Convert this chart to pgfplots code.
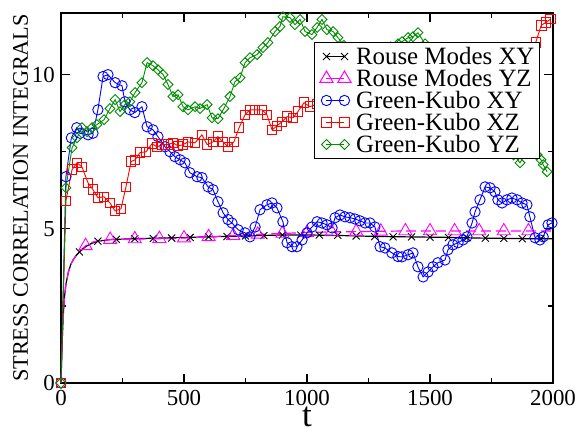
\documentclass[border=0pt]{standalone}
\usepackage{fontspec}
\setmainfont{Liberation Serif}
\usepackage{pgfplots}
\pgfplotsset{compat=1.18}
\definecolor{gkgreen}{rgb}{0,0.55,0}
\definecolor{gkblue}{rgb}{0,0,1}
\definecolor{gkred}{rgb}{1,0,0}
\definecolor{rmmag}{rgb}{1,0,1}
\begin{document}
\begin{tikzpicture}
\useasboundingbox (-61bp,-46bp) rectangle (516bp,383bp);
\begin{axis}[
  scale only axis, width=492bp, height=370bp,
  xmin=0, xmax=2000, ymin=0, ymax=12,
  clip=false,
  xtick={0,500,1000,1500,2000}, ytick={0,5,10},
  minor x tick num=1, minor y tick num=1,
  tick align=inside, major tick length=9bp, minor tick length=5bp,
  axis line style={line width=1.6bp},
  every tick/.style={black, line width=1.2bp},
  /pgf/number format/assume math mode=true,
  /pgf/number format/1000 sep={},
  tick label style={font=\fontsize{23}{23}\selectfont},
  xticklabel style={anchor=base, inner sep=0pt, yshift=-22bp},
  yticklabel style={anchor=east, inner sep=0pt, xshift=-6bp},
  xlabel={t}, ylabel={STRESS CORRELATION INTEGRALS},
  every axis x label/.style={at={(axis description cs:0.5,-0.1189)}, anchor=base, inner sep=0pt, font=\fontsize{35}{35}\selectfont},
  every axis y label/.style={at={(axis description cs:-0.0671,0.5)}, rotate=90, anchor=base, inner sep=0pt, font=\fontsize{22.3}{22}\selectfont},
  legend style={at={(axis description cs:0.9736,0.9208)}, anchor=north east, draw=black, line width=1bp,
    inner xsep=5bp, inner ysep=2.7bp, font=\fontsize{25}{22}\selectfont, row sep=0pt, column sep=5bp,
    nodes={inner sep=0pt, text height=19bp, text depth=3bp}},
  legend cell align=left,
  legend image code/.code={\draw[#1] plot coordinates {(0bp,0bp) (18bp,0bp)};},
]
% ---------- Rouse modes XY (line) ----------
\addplot[black, line width=1.2bp, forget plot] coordinates {
(0,0) (3,0.9) (6,1.6) (10,2.3) (15,2.85) (20,3.2) (30,3.6) (40,3.85) (50,4.0) (60,4.12)
(75,4.25) (100,4.42) (125,4.53) (150,4.6) (200,4.65) (300,4.68) (400,4.7) (500,4.72)
(600,4.74) (700,4.76) (800,4.78) (900,4.8) (1000,4.8) (1100,4.79) (1200,4.77) (1300,4.75)
(1400,4.74) (1500,4.73) (1600,4.72) (1700,4.7) (1800,4.69) (1900,4.68) (2000,4.68)};
\addplot[black, only marks, mark=x, mark size=5pt, line width=0.9bp, forget plot] coordinates {
(75,4.25) (150,4.6) (225,4.66) (300,4.68) (375,4.69) (450,4.70) (525,4.72) (600,4.74)
(675,4.75) (750,4.77) (825,4.78) (900,4.8) (975,4.8) (1050,4.8) (1125,4.79) (1200,4.77)
(1275,4.75) (1350,4.74) (1425,4.74) (1500,4.73) (1575,4.72) (1650,4.71) (1725,4.7)
(1800,4.69) (1875,4.68) (1950,4.68)};
% ---------- Rouse modes YZ ----------
\addplot[rmmag, line width=1.2bp, dash pattern=on 10bp off 5bp, forget plot] coordinates {
(0,0) (3,0.9) (6,1.6) (10,2.3) (15,2.85) (20,3.2) (30,3.6) (40,3.85) (50,4.0) (60,4.12)
(75,4.27) (100,4.45) (125,4.56) (150,4.61) (200,4.65) (300,4.67) (400,4.68) (500,4.7)
(600,4.74) (700,4.78) (800,4.82) (900,4.85) (1000,4.88) (1100,4.9) (1200,4.91) (1300,4.92)
(1400,4.93) (1500,4.93) (1600,4.93) (1700,4.93) (1800,4.93) (1900,4.93) (2000,4.93)};
\addplot[rmmag, only marks, mark=triangle, mark size=7.6pt, line width=0.9bp, forget plot] coordinates {
(100,4.45) (200,4.65) (300,4.67) (400,4.68) (500,4.7) (600,4.74) (700,4.78) (800,4.82)
(900,4.85) (1000,4.88) (1100,4.9) (1200,4.91) (1300,4.92) (1400,4.93) (1500,4.93)
(1600,4.93) (1700,4.93) (1800,4.93) (1900,4.93)};
% ---------- Green-Kubo XY ----------
\addplot[gkblue, line width=0.9bp, mark=o, mark size=5.2pt, forget plot] coordinates {
(0,0) (20,6.69) (42,7.95) (64,8.28) (77,8.10) (110,8.05) (130,8.10) (150,8.86) (171,9.94)
(191,10.0) (220,9.74) (248,9.64) (260,9.12) (280,8.86) (300,8.77) (329,8.96) (350,8.31)
(374,8.21) (394,7.99) (423,7.66) (443,7.50) (463,7.34) (484,7.24) (504,7.14) (524,6.82)
(553,6.69) (573,6.66) (598,6.36) (618,6.27) (638,5.88) (659,5.52) (679,5.30) (695,5.19)
(720,4.97) (748,4.87) (768,4.74) (789,5.06) (809,5.62) (837,5.78) (858,5.84) (878,5.68)
(902,5.23) (919,4.55) (939,4.42) (959,4.42) (980,4.64) (1000,4.87) (1020,5.06) (1041,5.23)
(1061,5.19) (1081,5.13) (1102,5.03) (1114,5.36) (1134,5.45) (1154,5.39) (1175,5.36)
(1195,5.32) (1215,5.26) (1236,5.19) (1256,5.19) (1276,5.06) (1297,4.42) (1317,4.38)
(1345,4.22) (1370,4.10) (1386,4.09) (1411,4.16) (1431,4.22) (1451,3.77) (1472,3.44)
(1492,3.60) (1512,3.77) (1532,3.90) (1561,3.99) (1573,4.32) (1593,4.48) (1614,4.55)
(1634,4.64) (1650,4.74) (1671,5.19) (1683,5.55) (1703,5.94) (1724,6.36) (1744,6.33)
(1764,6.20) (1776,5.94) (1793,5.84) (1813,5.94) (1833,6.00) (1854,5.94) (1874,5.84)
(1894,5.78) (1906,5.39) (1927,4.71) (1947,4.64) (1960,4.74) (1980,5.13) (1996,5.19)};
% ---------- Green-Kubo XZ ----------
\addplot[gkred, line width=0.9bp, mark=square, mark size=4.8pt, forget plot] coordinates {
(0,0) (20,5.91) (45,6.92) (65,7.14) (85,7.01) (110,6.49) (130,6.27) (150,6.01) (175,6.04)
(199,5.84) (220,5.58) (244,5.65) (264,6.36) (285,7.18) (301,7.24) (321,7.47) (346,7.50)
(370,7.76) (390,7.66) (411,7.73) (435,7.73) (455,7.79) (476,7.69) (496,7.73) (516,7.82)
(545,7.79) (573,8.05) (594,7.73) (618,7.82) (638,7.99) (659,7.82) (679,7.66) (703,7.82)
(724,8.28) (748,8.70) (768,8.86) (789,8.86) (817,8.86) (837,8.70) (858,8.21) (878,8.34)
(898,8.47) (919,8.64) (943,8.60) (963,8.80) (988,9.09) (1012,8.96) (1040,9.05) (1070,9.2)
(1100,9.3) (1130,9.25) (1160,9.4) (1200,9.5) (1250,9.6) (1300,9.55) (1350,9.7) (1400,9.9)
(1450,9.85) (1500,10.0) (1550,10.1) (1600,10.2) (1650,10.15) (1700,10.3) (1750,10.4)
(1800,10.5) (1850,10.6) (1900,10.7) (1930,11.05) (1952,11.6) (1972,11.7) (1990,11.8)};
% ---------- Green-Kubo YZ ----------
\addplot[gkgreen, line width=0.9bp, mark=square, mark size=3.5pt, mark options={rotate=45}, forget plot] coordinates {
(0,0) (20,6.33) (45,7.63) (65,7.95) (85,8.28) (106,8.15) (126,8.28) (146,8.38) (175,8.54)
(199,8.90) (220,9.19) (240,8.80) (260,9.03) (280,9.12) (301,9.42) (329,9.74) (350,10.39)
(374,10.29) (394,10.16) (415,10.00) (435,9.68) (455,9.29) (476,9.35) (496,8.96) (516,8.86)
(545,8.96) (565,8.90) (594,9.03) (614,8.60) (638,8.57) (662,8.90) (687,9.29) (707,9.77)
(728,9.90) (748,10.39) (768,10.55) (797,10.65) (821,10.88) (841,11.04) (870,11.40)
(890,11.56) (902,11.88) (931,11.85) (951,11.62) (972,11.79) (992,11.40) (1020,11.30)
(1041,11.53) (1061,11.79) (1081,11.46) (1106,11.40) (1126,11.20) (1150,10.95) (1180,10.8)
(1220,10.7) (1260,10.75) (1300,10.85) (1340,10.9) (1370,11.0) (1386,11.07) (1411,11.20)
(1431,11.23) (1451,11.36) (1480,11.0) (1520,10.5) (1560,10.0) (1600,9.6) (1640,9.2)
(1680,8.8) (1720,8.4) (1760,8.0) (1800,7.7) (1840,7.4) (1866,7.14) (1890,7.5) (1915,7.6)
(1935,7.4) (1951,7.24) (1960,7.08) (1976,6.85)};
% ---------- legend ----------
\addlegendimage{black, line width=1bp, mark=x, mark size=5pt}
\addlegendentry{Rouse Modes XY}
\addlegendimage{rmmag, line width=1bp, mark=triangle, mark size=7.6pt}
\addlegendentry{Rouse Modes YZ}
\addlegendimage{gkblue, line width=0.9bp, mark=o, mark size=5.2pt}
\addlegendentry{Green-Kubo XY}
\addlegendimage{gkred, line width=0.9bp, mark=square, mark size=4.8pt}
\addlegendentry{Green-Kubo XZ}
\addlegendimage{gkgreen, line width=0.9bp, mark=square, mark size=3.5pt, mark options={rotate=45}}
\addlegendentry{Green-Kubo YZ}
\end{axis}
\end{tikzpicture}
\end{document}
